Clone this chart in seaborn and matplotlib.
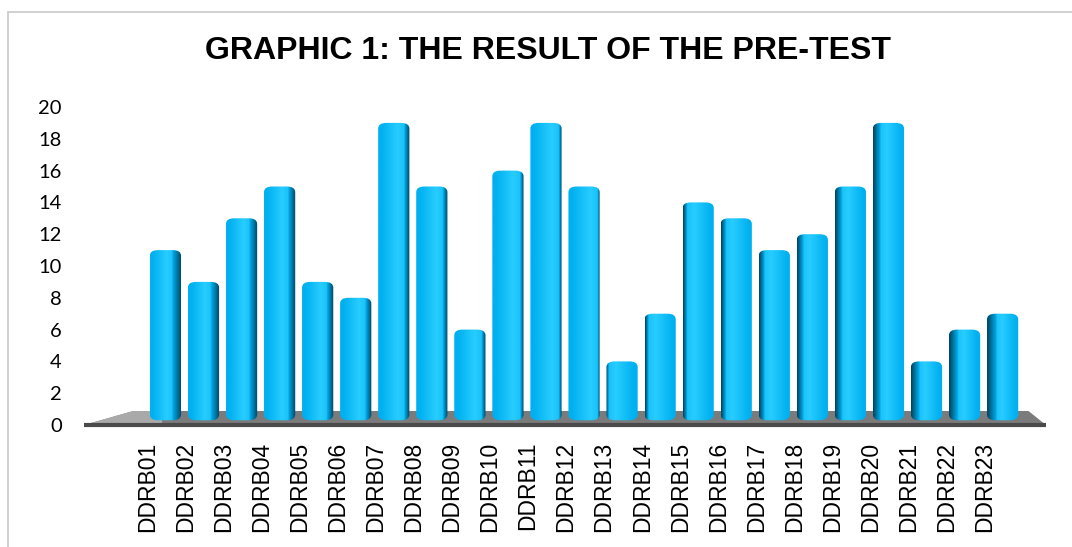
import numpy as np
import pandas as pd
import matplotlib
matplotlib.use("Agg")
import matplotlib.pyplot as plt
import matplotlib.transforms as mtrans
from matplotlib import font_manager
from matplotlib.patches import Polygon, Rectangle, FancyBboxPatch
import seaborn as sns

# data
students = ["DDRB%02d" % i for i in range(1, 24)]
scores = [11, 9, 13, 15, 9, 8, 19, 15, 6, 16, 19, 15, 4, 7, 14, 13, 11, 12, 15, 19, 4, 6, 7]
y_ticks = [0, 2, 4, 6, 8, 10, 12, 14, 16, 18, 20]
title = "GRAPHIC 1: THE RESULT OF THE PRE-TEST"

BASE = np.array([0, 176, 240]) / 255
LIGHT = np.array([40, 205, 255]) / 255
DARK = np.array([0, 68, 96]) / 255


def bar_shade(i, n, steps=64):
    # horizontal shading: dark side moves from right (left bars) to left (right bars)
    s = (i - (n - 1) / 2) / ((n - 1) / 2)
    u = np.linspace(0, 1, steps)
    df = 0.06 + 0.24 * abs(s)
    d = u if s > 0 else 1 - u
    col = np.empty((1, steps, 3))
    for k, x in enumerate(d):
        if x < df:
            t = x / df
            c = DARK * (1 - t) + BASE * t
        else:
            t = (x - df) / (1 - df)
            a = (1 - abs(t - 0.25) * 1.6).clip(0, 1)
            c = LIGHT * a + BASE * (1 - a)
        col[0, k] = c
    return col


def main():
    df = pd.DataFrame({"student": students, "score": scores})
    sns.set_style("white")
    plt.rcParams["font.family"] = ["Liberation Sans", "DejaVu Sans"]
    plt.rcParams["text.color"] = "black"
    plt.rcParams["xtick.color"] = "black"
    plt.rcParams["ytick.color"] = "black"

    names = {f.name for f in font_manager.fontManager.ttflist}
    narrow = "Liberation Sans Narrow" in names

    fig = plt.figure(figsize=(10.72, 5.47), dpi=100)
    W, H = 1072, 547
    ax = fig.add_axes([84 / W, 1 - 425 / H, (1046 - 84) / W, (425 - 107) / H])

    # outer chart border
    fig.patches.append(Rectangle((8 / W, -0.1), 1.2, 1 - 12 / H + 0.1, transform=fig.transFigure,
                                 fill=False, edgecolor="#c8c8c8", linewidth=1.2))

    xmin, xmax = -2.14, 23.14
    # floor
    ax.add_patch(Polygon([(xmin, 0), (xmax, 0), (22.68, 0.88), (-0.84, 0.88)], closed=True,
                         facecolor="#7b7b7b", edgecolor="none", zorder=1, clip_on=False))
    ax.add_patch(Polygon([(xmin, 0), (-0.1, 0), (-0.1, 0.88), (-0.84, 0.88)], closed=True,
                         facecolor="#a9a9a9", edgecolor="none", zorder=1.1, clip_on=False))
    ax.plot([xmin, xmax], [0, 0], color="#4a4a4a", lw=3, solid_capstyle="butt", zorder=1.5, clip_on=False)

    sns.barplot(data=df, x="student", y="score", color="#00b0f0", width=0.82,
                saturation=1, ax=ax, zorder=3)

    bars = list(ax.containers[0])
    n = len(bars)
    for i, p in enumerate(bars):
        x0, y0 = p.get_x(), p.get_y()
        w, h = p.get_width(), p.get_height()
        p.set_visible(False)
        # rounded cylinder-like outline
        shape = FancyBboxPatch((x0, y0 + 0.3), w, h - 0.3,
                               boxstyle="round,pad=0,rounding_size=0.22",
                               mutation_aspect=1.6, facecolor="none", edgecolor="none",
                               transform=ax.transData, zorder=3)
        ax.add_patch(shape)
        im = ax.imshow(bar_shade(i, n), extent=(x0, x0 + w, y0, y0 + h), aspect="auto",
                       interpolation="bilinear", zorder=3.5)
        im.set_clip_path(shape)

    ax.set_xlim(xmin, xmax)
    ax.set_ylim(0, 20)
    ax.set_yticks(y_ticks)
    ax.set_yticklabels([str(v) for v in y_ticks], fontsize=14.5, family="Lato")
    ax.tick_params(axis="y", length=0, pad=16)
    ax.tick_params(axis="x", length=0, pad=12, rotation=90)
    offset = mtrans.ScaledTranslation(-18 / 100, 0, fig.dpi_scale_trans)
    for lab in ax.get_xticklabels():
        lab.set_transform(lab.get_transform() + offset)
        if narrow:
            lab.set_family("Liberation Sans Narrow")
            lab.set_fontsize(20)
        else:
            lab.set_fontsize(16.5)
    ax.set_xlabel("")
    ax.set_ylabel("")
    for sp in ax.spines.values():
        sp.set_visible(False)
    ax.set_facecolor("none")

    fig.text(548 / W, 1 - 51 / H, title, ha="center", va="center",
             fontsize=23, fontweight="bold")

    fig.savefig("out.png", dpi=100)


if __name__ == "__main__":
    main()
